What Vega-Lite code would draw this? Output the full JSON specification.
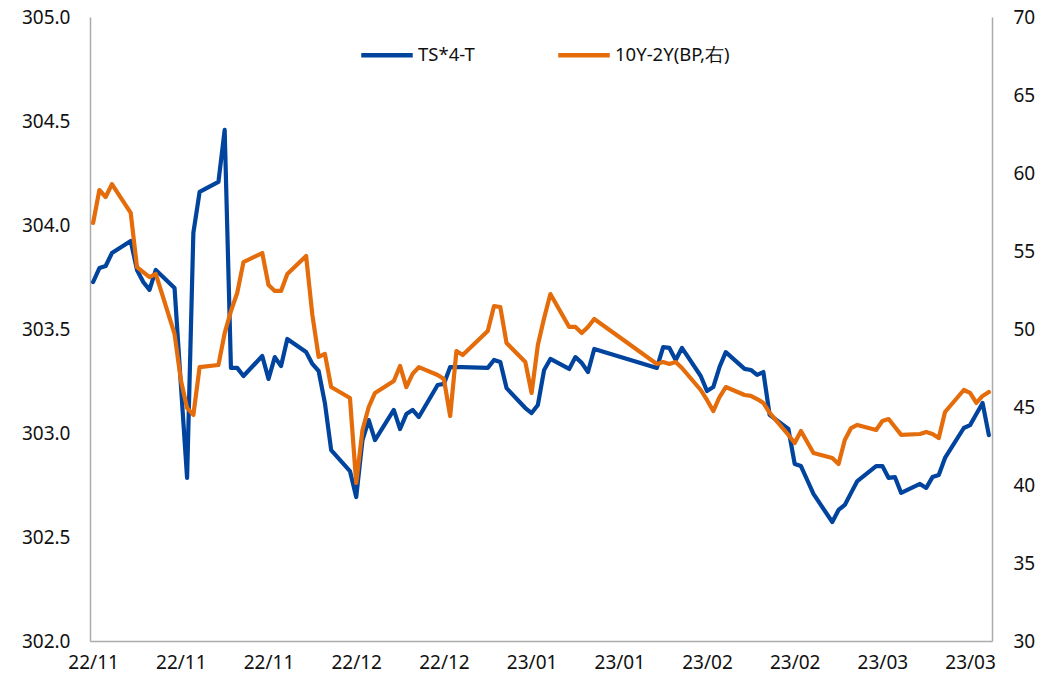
{
  "$schema": "https://vega.github.io/schema/vega-lite/v6.json",
  "width": 902,
  "height": 624,
  "autosize": {"type": "none"},
  "padding": {"left": 90, "top": 17, "right": 62, "bottom": 38},
  "background": "white",
  "config": {
    "view": {"stroke": null},
    "font": "Noto Sans",
    "axis": {
      "grid": false,
      "ticks": false,
      "tickSize": 0,
      "domainColor": "#ABABAB",
      "domainWidth": 1.5,
      "labelFont": "Noto Sans",
      "labelFontSize": 19,
      "labelColor": "#111111",
      "labelFlush": false,
      "labelBound": false,
      "labelOverlap": false,
      "title": null
    },
    "legend": {
      "labelFont": "Noto Sans",
      "labelFontSize": 18.5,
      "labelColor": "#111111",
      "labelLimit": 400
    }
  },
  "data": {
    "values": [
      {"d": "2022-11-01T00:00:00", "ts": 303.726, "sp": 56.80},
      {"d": "2022-11-02T00:00:00", "ts": 303.793, "sp": 58.91},
      {"d": "2022-11-03T00:00:00", "ts": 303.803, "sp": 58.46},
      {"d": "2022-11-04T00:00:00", "ts": 303.865, "sp": 59.29},
      {"d": "2022-11-07T00:00:00", "ts": 303.923, "sp": 57.44},
      {"d": "2022-11-08T00:00:00", "ts": 303.784, "sp": 53.97},
      {"d": "2022-11-09T00:00:00", "ts": 303.726, "sp": 53.65},
      {"d": "2022-11-10T00:00:00", "ts": 303.688, "sp": 53.33},
      {"d": "2022-11-11T00:00:00", "ts": 303.784, "sp": 53.53},
      {"d": "2022-11-14T00:00:00", "ts": 303.697, "sp": 49.68},
      {"d": "2022-11-15T00:00:00", "ts": 303.236, "sp": 46.73},
      {"d": "2022-11-16T00:00:00", "ts": 302.784, "sp": 44.94},
      {"d": "2022-11-17T00:00:00", "ts": 303.962, "sp": 44.49},
      {"d": "2022-11-18T00:00:00", "ts": 304.159, "sp": 47.56},
      {"d": "2022-11-21T00:00:00", "ts": 304.207, "sp": 47.69},
      {"d": "2022-11-22T00:00:00", "ts": 304.457, "sp": 49.74},
      {"d": "2022-11-23T00:00:00", "ts": 303.313, "sp": 51.15},
      {"d": "2022-11-24T00:00:00", "ts": 303.313, "sp": 52.31},
      {"d": "2022-11-25T00:00:00", "ts": 303.274, "sp": 54.29},
      {"d": "2022-11-28T00:00:00", "ts": 303.370, "sp": 54.87},
      {"d": "2022-11-29T00:00:00", "ts": 303.260, "sp": 52.82},
      {"d": "2022-11-30T00:00:00", "ts": 303.365, "sp": 52.44},
      {"d": "2022-12-01T00:00:00", "ts": 303.322, "sp": 52.44},
      {"d": "2022-12-02T00:00:00", "ts": 303.452, "sp": 53.53},
      {"d": "2022-12-05T00:00:00", "ts": 303.389, "sp": 54.68},
      {"d": "2022-12-06T00:00:00", "ts": 303.332, "sp": 50.90},
      {"d": "2022-12-07T00:00:00", "ts": 303.298, "sp": 48.21},
      {"d": "2022-12-08T00:00:00", "ts": 303.144, "sp": 48.40},
      {"d": "2022-12-09T00:00:00", "ts": 302.918, "sp": 46.28},
      {"d": "2022-12-12T00:00:00", "ts": 302.817, "sp": 45.58},
      {"d": "2022-12-13T00:00:00", "ts": 302.692, "sp": 40.13},
      {"d": "2022-12-14T00:00:00", "ts": 302.966, "sp": 43.53},
      {"d": "2022-12-15T00:00:00", "ts": 303.062, "sp": 45.00},
      {"d": "2022-12-16T00:00:00", "ts": 302.966, "sp": 45.90},
      {"d": "2022-12-19T00:00:00", "ts": 303.111, "sp": 46.67},
      {"d": "2022-12-20T00:00:00", "ts": 303.019, "sp": 47.63},
      {"d": "2022-12-21T00:00:00", "ts": 303.091, "sp": 46.28},
      {"d": "2022-12-22T00:00:00", "ts": 303.111, "sp": 47.12},
      {"d": "2022-12-23T00:00:00", "ts": 303.077, "sp": 47.56},
      {"d": "2022-12-26T00:00:00", "ts": 303.231, "sp": 47.05},
      {"d": "2022-12-27T00:00:00", "ts": 303.236, "sp": 46.79},
      {"d": "2022-12-28T00:00:00", "ts": 303.317, "sp": 44.42},
      {"d": "2022-12-29T00:00:00", "ts": 303.317, "sp": 48.59},
      {"d": "2022-12-30T00:00:00", "ts": 303.317, "sp": 48.33},
      {"d": "2023-01-03T00:00:00", "ts": 303.313, "sp": 49.87},
      {"d": "2023-01-04T00:00:00", "ts": 303.351, "sp": 51.47},
      {"d": "2023-01-05T00:00:00", "ts": 303.341, "sp": 51.41},
      {"d": "2023-01-06T00:00:00", "ts": 303.216, "sp": 49.10},
      {"d": "2023-01-09T00:00:00", "ts": 303.120, "sp": 47.88},
      {"d": "2023-01-10T00:00:00", "ts": 303.096, "sp": 45.90},
      {"d": "2023-01-11T00:00:00", "ts": 303.135, "sp": 48.97},
      {"d": "2023-01-12T00:00:00", "ts": 303.303, "sp": 50.71},
      {"d": "2023-01-13T00:00:00", "ts": 303.356, "sp": 52.24},
      {"d": "2023-01-16T00:00:00", "ts": 303.308, "sp": 50.13},
      {"d": "2023-01-17T00:00:00", "ts": 303.365, "sp": 50.13},
      {"d": "2023-01-18T00:00:00", "ts": 303.337, "sp": 49.74},
      {"d": "2023-01-19T00:00:00", "ts": 303.293, "sp": 50.13},
      {"d": "2023-01-20T00:00:00", "ts": 303.404, "sp": 50.64},
      {"d": "2023-01-30T00:00:00", "ts": 303.313, "sp": 47.76},
      {"d": "2023-01-31T00:00:00", "ts": 303.413, "sp": 47.88},
      {"d": "2023-02-01T00:00:00", "ts": 303.409, "sp": 47.76},
      {"d": "2023-02-02T00:00:00", "ts": 303.351, "sp": 47.88},
      {"d": "2023-02-03T00:00:00", "ts": 303.409, "sp": 47.50},
      {"d": "2023-02-06T00:00:00", "ts": 303.274, "sp": 46.09},
      {"d": "2023-02-07T00:00:00", "ts": 303.202, "sp": 45.45},
      {"d": "2023-02-08T00:00:00", "ts": 303.221, "sp": 44.74},
      {"d": "2023-02-09T00:00:00", "ts": 303.317, "sp": 45.64},
      {"d": "2023-02-10T00:00:00", "ts": 303.389, "sp": 46.28},
      {"d": "2023-02-13T00:00:00", "ts": 303.308, "sp": 45.77},
      {"d": "2023-02-14T00:00:00", "ts": 303.303, "sp": 45.71},
      {"d": "2023-02-15T00:00:00", "ts": 303.279, "sp": 45.51},
      {"d": "2023-02-16T00:00:00", "ts": 303.293, "sp": 45.26},
      {"d": "2023-02-17T00:00:00", "ts": 303.087, "sp": 44.62},
      {"d": "2023-02-20T00:00:00", "ts": 303.019, "sp": 43.21},
      {"d": "2023-02-21T00:00:00", "ts": 302.851, "sp": 42.69},
      {"d": "2023-02-22T00:00:00", "ts": 302.841, "sp": 43.46},
      {"d": "2023-02-23T00:00:00", "ts": 302.774, "sp": 42.76},
      {"d": "2023-02-24T00:00:00", "ts": 302.707, "sp": 42.05},
      {"d": "2023-02-27T00:00:00", "ts": 302.572, "sp": 41.73},
      {"d": "2023-02-28T00:00:00", "ts": 302.630, "sp": 41.35},
      {"d": "2023-03-01T00:00:00", "ts": 302.654, "sp": 42.88},
      {"d": "2023-03-02T00:00:00", "ts": 302.712, "sp": 43.65},
      {"d": "2023-03-03T00:00:00", "ts": 302.769, "sp": 43.85},
      {"d": "2023-03-06T00:00:00", "ts": 302.841, "sp": 43.53},
      {"d": "2023-03-07T00:00:00", "ts": 302.841, "sp": 44.10},
      {"d": "2023-03-08T00:00:00", "ts": 302.784, "sp": 44.23},
      {"d": "2023-03-09T00:00:00", "ts": 302.788, "sp": 43.72},
      {"d": "2023-03-10T00:00:00", "ts": 302.712, "sp": 43.21},
      {"d": "2023-03-13T00:00:00", "ts": 302.755, "sp": 43.27},
      {"d": "2023-03-14T00:00:00", "ts": 302.736, "sp": 43.40},
      {"d": "2023-03-15T00:00:00", "ts": 302.788, "sp": 43.27},
      {"d": "2023-03-16T00:00:00", "ts": 302.798, "sp": 43.01},
      {"d": "2023-03-17T00:00:00", "ts": 302.880, "sp": 44.68},
      {"d": "2023-03-20T00:00:00", "ts": 303.024, "sp": 46.09},
      {"d": "2023-03-21T00:00:00", "ts": 303.038, "sp": 45.90},
      {"d": "2023-03-22T00:00:00", "ts": 303.091, "sp": 45.26},
      {"d": "2023-03-23T00:00:00", "ts": 303.144, "sp": 45.71},
      {"d": "2023-03-24T00:00:00", "ts": 302.990, "sp": 45.96}
    ]
  },
  "encoding": {
    "x": {
      "field": "d",
      "type": "temporal",
      "scale": {
        "domain": [
          {"year": 2022, "month": 10, "date": 31, "hours": 12},
          {"year": 2023, "month": 3, "date": 24, "hours": 12}
        ]
      },
      "axis": {
        "orient": "bottom",
        "format": "%y/%m",
        "labelPadding": 12,
        "values": [
          {"year": 2022, "month": 11, "date": 1},
          {"year": 2022, "month": 11, "date": 15},
          {"year": 2022, "month": 11, "date": 29},
          {"year": 2022, "month": 12, "date": 13},
          {"year": 2022, "month": 12, "date": 27},
          {"year": 2023, "month": 1, "date": 10},
          {"year": 2023, "month": 1, "date": 24},
          {"year": 2023, "month": 2, "date": 7},
          {"year": 2023, "month": 2, "date": 21},
          {"year": 2023, "month": 3, "date": 7},
          {"year": 2023, "month": 3, "date": 21}
        ]
      }
    }
  },
  "layer": [
    {
      "mark": {"type": "line", "strokeWidth": 4.2, "strokeJoin": "round", "strokeCap": "round"},
      "encoding": {
        "y": {
          "field": "ts",
          "type": "quantitative",
          "scale": {"domain": [302, 305], "zero": false, "nice": false},
          "axis": {
            "orient": "left",
            "values": [302, 302.5, 303, 303.5, 304, 304.5, 305],
            "format": ".1f",
            "labelPadding": 20
          }
        },
        "color": {
          "datum": "TS*4-T",
          "type": "nominal",
          "scale": {"domain": ["TS*4-T", "10Y-2Y(BP,右)"], "range": ["#00449E", "#E46C0A"]},
          "legend": {
            "title": null,
            "orient": "none",
            "direction": "horizontal",
            "legendX": 269,
            "legendY": 10,
            "padding": 0,
            "symbolType": "stroke",
            "symbolSize": 2650,
            "symbolStrokeWidth": 4.5,
            "labelOffset": 3,
            "columnPadding": 74
          }
        }
      }
    },
    {
      "mark": {"type": "line", "strokeWidth": 4.2, "strokeJoin": "round", "strokeCap": "round"},
      "encoding": {
        "y": {
          "field": "sp",
          "type": "quantitative",
          "scale": {"domain": [30, 70], "zero": false, "nice": false},
          "axis": {
            "orient": "right",
            "values": [30, 35, 40, 45, 50, 55, 60, 65, 70],
            "labelPadding": 21
          }
        },
        "color": {"datum": "10Y-2Y(BP,右)", "type": "nominal"}
      }
    }
  ],
  "resolve": {"scale": {"y": "independent"}}
}
